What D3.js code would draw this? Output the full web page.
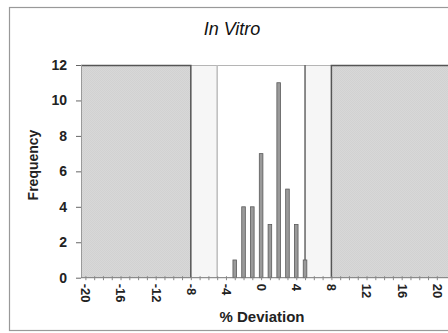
<!DOCTYPE html>
<html>
<head>
<meta charset="utf-8">
<script src="https://cdn.jsdelivr.net/npm/d3@7"></script>
<style>
  body { margin: 0; background: #fff; }
  svg { display: block; font-family: "Liberation Sans", Arial, sans-serif; }
</style>
</head>
<body>
<svg id="chart"></svg>
<script>
// histogram data
var binCenters = [-3, -2, -1, 0, 1, 2, 3, 4, 5];
var frequencies = [1, 4, 4, 7, 3, 11, 5, 3, 1];

// tick labels
var xTicks = [-20, -16, -12, -8, -4, 0, 4, 8, 12, 16, 20];
var yTicks = [0, 2, 4, 6, 8, 10, 12];

// limits drawn on the chart
var innerLimit = 5;
var outerLimit = 8;

var width = 448, height = 333;
var plotLeft = 81, plotRight = 450, plotTop = 65, plotBottom = 277.7;

var svg = d3.select("#chart")
    .attr("width", width)
    .attr("height", height);

var x = d3.scaleLinear().domain([-20.5, 21.5]).range([plotLeft, plotRight]);
var y = d3.scaleLinear().domain([0, 12]).range([plotBottom, plotTop]);

// outer frame
svg.append("rect")
    .attr("x", 9.5).attr("y", 7.5)
    .attr("width", 460).attr("height", 323)
    .attr("fill", "#fff")
    .attr("stroke", "#999")
    .attr("stroke-width", 1.2);

// stipple for the out-of-range zones
var defs = svg.append("defs");
var pat = defs.append("pattern")
    .attr("id", "stip")
    .attr("width", 2).attr("height", 2)
    .attr("patternUnits", "userSpaceOnUse");
pat.append("rect").attr("width", 2).attr("height", 2).attr("fill", "#d8d8d8");
pat.append("rect").attr("width", 1).attr("height", 1).attr("fill", "#d1d1d1");
pat.append("rect").attr("x", 1).attr("y", 1).attr("width", 1).attr("height", 1).attr("fill", "#d1d1d1");

var g = svg.append("g");

// zones between inner and outer limits
g.append("rect")
    .attr("x", x(-outerLimit)).attr("y", plotTop)
    .attr("width", x(-innerLimit) - x(-outerLimit))
    .attr("height", plotBottom - plotTop)
    .attr("fill", "#f6f6f6");
g.append("rect")
    .attr("x", x(innerLimit)).attr("y", plotTop)
    .attr("width", x(outerLimit) - x(innerLimit))
    .attr("height", plotBottom - plotTop)
    .attr("fill", "#f6f6f6");

// top border of plot
g.append("line")
    .attr("x1", plotLeft).attr("x2", plotRight)
    .attr("y1", plotTop + 0.5).attr("y2", plotTop + 0.5)
    .attr("stroke", "#b5b5b5");

// shaded zones outside the outer limits
g.append("rect")
    .attr("x", plotLeft).attr("y", plotTop)
    .attr("width", x(-outerLimit) - plotLeft)
    .attr("height", plotBottom - plotTop)
    .attr("fill", "url(#stip)");
g.append("rect")
    .attr("x", x(outerLimit)).attr("y", plotTop)
    .attr("width", plotRight - x(outerLimit))
    .attr("height", plotBottom - plotTop)
    .attr("fill", "url(#stip)");

// edges of shaded zones
g.append("path")
    .attr("d", "M" + plotLeft + "," + (plotTop + 0.5) + "H" + x(-outerLimit) + "V" + plotBottom)
    .attr("fill", "none")
    .attr("stroke", "#555")
    .attr("stroke-width", 1.5);
g.append("line")
    .attr("x1", plotLeft + 0.5).attr("x2", plotLeft + 0.5)
    .attr("y1", plotTop).attr("y2", plotBottom)
    .attr("stroke", "#9a9a9a");
g.append("path")
    .attr("d", "M" + x(outerLimit) + "," + plotBottom + "V" + (plotTop + 0.5) + "H" + plotRight)
    .attr("fill", "none")
    .attr("stroke", "#555")
    .attr("stroke-width", 1.5);

// inner limit lines
g.append("line")
    .attr("x1", x(-innerLimit)).attr("x2", x(-innerLimit))
    .attr("y1", plotTop).attr("y2", plotBottom)
    .attr("stroke", "#bdbdbd")
    .attr("stroke-width", 1.5);
g.append("line")
    .attr("x1", x(innerLimit)).attr("x2", x(innerLimit))
    .attr("y1", plotTop).attr("y2", plotBottom)
    .attr("stroke", "#666")
    .attr("stroke-width", 1.5);

// bars
var barW = 3.6;
g.selectAll("rect.bar")
    .data(binCenters)
    .enter()
    .append("rect")
    .attr("class", "bar")
    .attr("x", function(d) { return x(d) - barW / 2; })
    .attr("y", function(d, i) { return y(frequencies[i]); })
    .attr("width", barW)
    .attr("height", function(d, i) { return plotBottom - y(frequencies[i]); })
    .attr("fill", "#9a9a9a")
    .attr("stroke", "#5a5a5a")
    .attr("stroke-width", 0.8);

// x axis line and minor ticks
g.append("line")
    .attr("x1", plotLeft).attr("x2", plotRight)
    .attr("y1", plotBottom).attr("y2", plotBottom)
    .attr("stroke", "#777");

var minor = g.append("g")
    .attr("transform", "translate(0," + (plotBottom + 1.5) + ")")
    .call(d3.axisBottom(x).tickValues(d3.range(-20, 21, 1)).tickSize(3).tickFormat(""));
minor.select(".domain").remove();
minor.selectAll("line").attr("stroke", "#888").attr("transform", "translate(0,-3)").attr("y2", 4);

// x tick labels, rotated
var xAxis = g.append("g")
    .attr("transform", "translate(0," + plotBottom + ")")
    .call(d3.axisBottom(x).tickValues(xTicks).tickSize(0).tickPadding(0).tickFormat(String));
xAxis.select(".domain").remove();
xAxis.selectAll("text")
    .attr("transform", "rotate(90)")
    .attr("x", 6)
    .attr("y", 0)
    .attr("dy", "0.35em")
    .attr("text-anchor", "start")
    .attr("font-size", 13)
    .attr("font-weight", "bold")
    .attr("fill", "#222");

// y axis
var yAxis = g.append("g")
    .attr("transform", "translate(" + plotLeft + ",0)")
    .call(d3.axisLeft(y).tickValues(yTicks).tickSize(5).tickPadding(9));
yAxis.select(".domain").remove();
yAxis.selectAll("line").attr("stroke", "#666");
yAxis.selectAll("text")
    .attr("font-size", 14)
    .attr("font-weight", "bold")
    .attr("fill", "#222");

// titles
svg.append("text")
    .attr("x", 232).attr("y", 35)
    .attr("text-anchor", "middle")
    .attr("font-size", 18)
    .attr("font-style", "italic")
    .attr("fill", "#111")
    .text("In Vitro");

svg.append("text")
    .attr("x", 262).attr("y", 322)
    .attr("text-anchor", "middle")
    .attr("font-size", 15)
    .attr("font-weight", "bold")
    .attr("fill", "#222")
    .text("% Deviation");

svg.append("text")
    .attr("transform", "translate(38,165) rotate(-90)")
    .attr("text-anchor", "middle")
    .attr("font-size", 14)
    .attr("font-weight", "bold")
    .attr("fill", "#222")
    .text("Frequency");
</script>
</body>
</html>
